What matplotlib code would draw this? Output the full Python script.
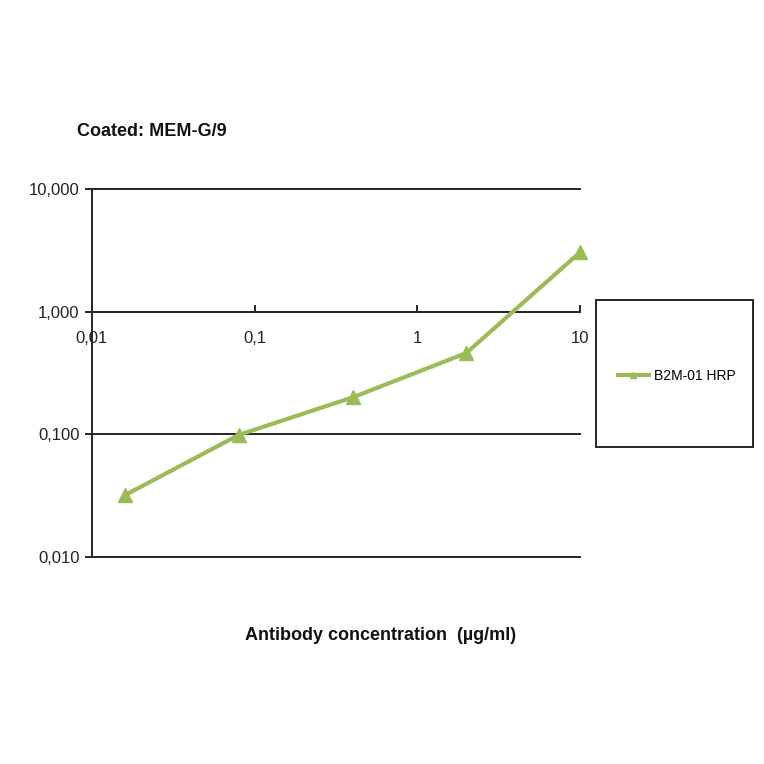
import numpy as np
import matplotlib.pyplot as plt
from matplotlib.patches import Rectangle
from matplotlib.ticker import FixedLocator, FixedFormatter, NullLocator

plt.rcParams['font.family'] = ['Liberation Sans', 'DejaVu Sans']

# data
conc = [0.016, 0.08, 0.4, 2.0, 10.0]
signal = [0.032, 0.099, 0.20, 0.46, 3.05]
series_name = 'B2M-01 HRP'

x_ticks = [0.01, 0.1, 1, 10]
x_labels = ['0,01', '0,1', '1', '10']
y_ticks = [0.01, 0.1, 1, 10]
y_labels = ['0,010', '0,100', '1,000', '10,000']

W = 764
fig = plt.figure(figsize=(7.64, 7.64), dpi=100)
ax = fig.add_axes([92/W, 1 - 557/W, 488/W, 368/W])

green = '#9BBB59'
ax.plot(conc, signal, color=green, lw=3, marker='^', ms=10, label=series_name,
        clip_on=False, zorder=5)

ax.set_xscale('log')
ax.set_yscale('log')
ax.set_xlim(0.01, 10)
ax.set_ylim(0.01, 10)

for yv in y_ticks:
    ax.axhline(yv, color='#262626', lw=1.4, zorder=1, clip_on=False)

ax.spines['top'].set_visible(False)
ax.spines['right'].set_visible(False)
ax.spines['bottom'].set_position(('data', 1))
ax.spines['bottom'].set_color('#262626')
ax.spines['bottom'].set_linewidth(1.4)
ax.spines['left'].set_color('#262626')
ax.spines['left'].set_linewidth(1.4)

ax.xaxis.set_major_locator(FixedLocator(x_ticks))
ax.xaxis.set_major_formatter(FixedFormatter(x_labels))
ax.xaxis.set_minor_locator(NullLocator())
ax.yaxis.set_major_locator(FixedLocator(y_ticks))
ax.yaxis.set_major_formatter(FixedFormatter(y_labels))
ax.yaxis.set_minor_locator(NullLocator())

ax.tick_params(axis='x', direction='in', length=5, width=1.4, color='#262626',
               labelsize=12, pad=14, labelcolor='#222222')
ax.tick_params(axis='y', direction='out', length=5, width=1.4, color='#262626',
               labelsize=12, pad=4, labelcolor='#222222')

fig.text(77/W, 1 - 131/W, 'Coated: MEM-G/9', fontsize=13, fontweight='bold',
         ha='left', va='center', color='#111111')
fig.text(381/W, 1 - 636/W, 'Antibody concentration  (\u00b5g/ml)', fontsize=13,
         fontweight='bold', ha='center', va='center', color='#111111')

# legend box
fig.patches.append(Rectangle((596/W, 1 - 447/W), 157/W, 147/W,
                             transform=fig.transFigure, fill=False,
                             edgecolor='#262626', lw=1.4))
handles, labels = ax.get_legend_handles_labels()
fig.legend(handles, labels, loc='center left', bbox_to_anchor=(605/W, 1 - 376/W),
           frameon=False, fontsize=10, handlelength=2.3, handletextpad=0.3,
           markerscale=0.5)

fig.savefig('out.png', dpi=100)
